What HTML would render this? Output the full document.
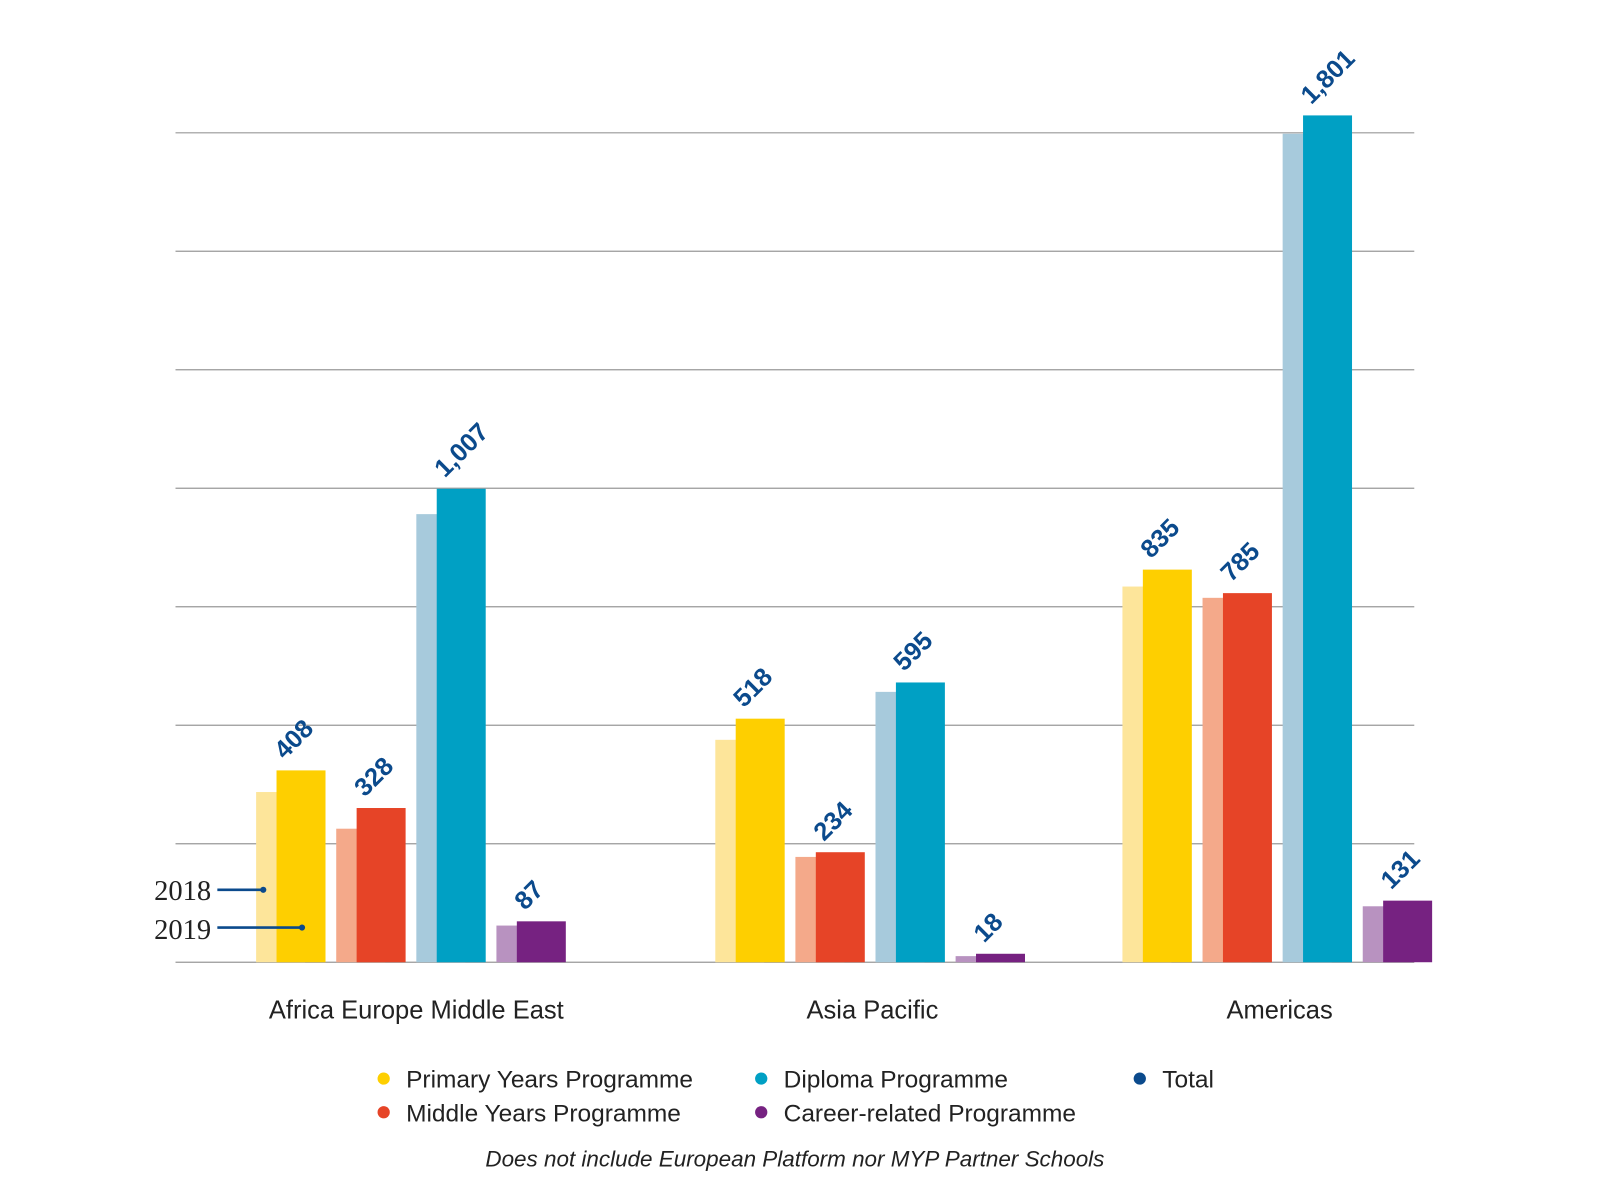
<!DOCTYPE html>
<html><head><meta charset="utf-8"><style>
body{margin:0;background:#fff;}
svg{display:block;font-family:"Liberation Sans",sans-serif;}
</style></head><body>
<svg width="1600" height="1200" viewBox="0 0 1600 1200">
<g transform="scale(1.0204)">
<g id="grid"></g>
<g id="bars"></g>
<g id="labels"></g>
<g id="cats"></g>
<g>
<text x="151" y="882" font-family="Liberation Serif, serif" font-size="28" fill="#222">2018</text>
<line x1="213" y1="872" x2="258" y2="872" stroke="#0b4a8c" stroke-width="2.5"/>
<circle cx="258" cy="872" r="3" fill="#0b4a8c"/>
<text x="151" y="920" font-family="Liberation Serif, serif" font-size="28" fill="#222">2019</text>
<line x1="213" y1="909" x2="296" y2="909" stroke="#0b4a8c" stroke-width="2.5"/>
<circle cx="296" cy="909" r="3" fill="#0b4a8c"/>
</g>
<g font-size="24" fill="#222">
<g><circle cx="376" cy="1057" r="6" fill="#fecf00"/><text x="398" y="1066">Primary Years Programme</text></g>
<g><circle cx="376" cy="1090" r="6" fill="#e64427"/><text x="398" y="1099">Middle Years Programme</text></g>
<g><circle cx="746" cy="1057" r="6" fill="#00a0c4"/><text x="768" y="1066">Diploma Programme</text></g>
<g><circle cx="746" cy="1090" r="6" fill="#762281"/><text x="768" y="1099">Career-related Programme</text></g>
<g><circle cx="1117" cy="1057" r="6" fill="#0b4a8c"/><text x="1139" y="1066">Total</text></g>
</g>
<text x="779" y="1143" text-anchor="middle" font-size="22" font-style="italic" fill="#222">Does not include European Platform nor MYP Partner Schools</text>
</g>
</svg>
<script>
const categories = ["Africa Europe Middle East", "Asia Pacific", "Americas"];
const programmes = ["pyp", "myp", "dp", "cp"];
const values2018 = [[362, 284, 953, 78], [473, 224, 575, 13], [799, 775, 1762, 119]];
const values2019 = [[408, 328, 1007, 87], [518, 234, 595, 18], [835, 785, 1801, 131]];
const gridTicks = [0, 252, 504, 756, 1008, 1260, 1512, 1764];

const NS = "http://www.w3.org/2000/svg";
const baseY = 943, pxPerUnit = 0.4608;
const y = v => baseY - v * pxPerUnit;
const groupStart = [251, 701, 1100];
const catCenter = [408, 855, 1254];
const step = 78.5, lightOff = 20, barW = 48;
const light = ["#fde59a", "#f4a98a", "#a7cadc", "#b892c0"];
const dark = ["#fecf00", "#e64427", "#00a0c4", "#762281"];
function mk(tag, attrs, parent) {
  const e = document.createElementNS(NS, tag);
  for (const k in attrs) e.setAttribute(k, attrs[k]);
  parent.appendChild(e);
  return e;
}
const grid = document.getElementById("grid");
gridTicks.forEach(t => {
  const l = mk("line", {x1: 172, x2: 1386, y1: y(t), y2: y(t), stroke: "#999", "stroke-width": 1.2}, grid);
  
  
});
const bars = document.getElementById("bars"), labels = document.getElementById("labels"), cats = document.getElementById("cats");
categories.forEach((c, gi) => {
  programmes.forEach((p, pi) => {
    const x0 = groupStart[gi] + pi * step;
    const v1 = values2018[gi][pi], v2 = values2019[gi][pi];
    const b1 = mk("rect", {x: x0, y: y(v1), width: barW, height: baseY - y(v1), fill: light[pi]}, bars);
    
    
    const b2 = mk("rect", {x: x0 + lightOff, y: y(v2), width: barW, height: baseY - y(v2), fill: dark[pi]}, bars);
    
    
    const tx = x0 + lightOff + 8, ty = y(v2) - 10;
    const t = mk("text", {x: tx, y: ty, transform: `rotate(-45 ${tx} ${ty})`, fill: "#0b4a8c", "font-size": 25, "font-weight": "bold"}, labels);
    t.textContent = v2.toLocaleString("en-US");
    
    
  });
  const ct = mk("text", {x: catCenter[gi], y: 998, "text-anchor": "middle", "font-size": 25, fill: "#222"}, cats);
  ct.textContent = c;
  
  
});
</script>
</body></html>
